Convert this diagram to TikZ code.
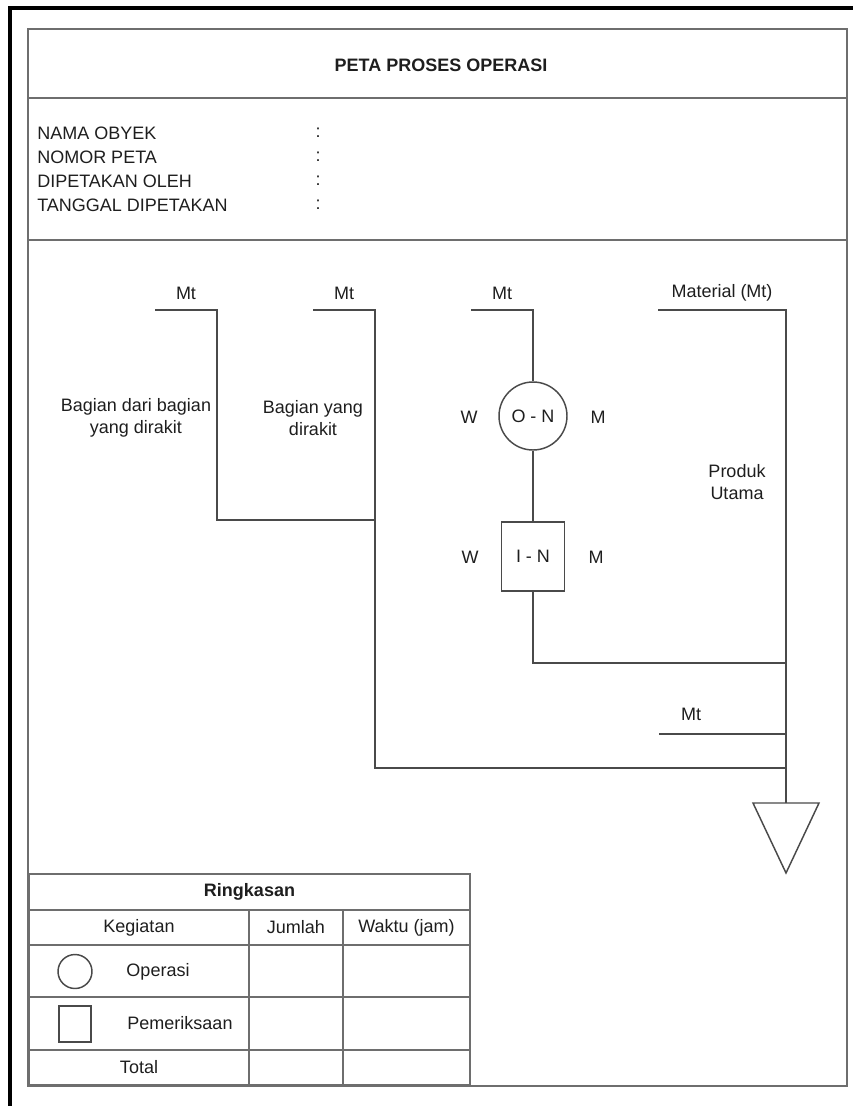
\documentclass[tikz,border=0pt]{standalone}
\usepackage{fontspec}
\setmainfont{Liberation Sans}
\usepackage{xcolor}
\definecolor{garis}{HTML}{4A4A4A}
\definecolor{bingkai}{HTML}{6E6E6E}
\definecolor{teks}{HTML}{1E1E1E}
\usetikzlibrary{positioning,shapes.geometric}

\begin{document}
\begin{tikzpicture}[x=0.75pt, y=-0.75pt,
                   lbl/.style={inner sep=0pt, text=teks, font=\fontsize{13.5}{16}\selectfont},
                   ttl/.style={lbl, font=\fontsize{13.5}{16}\selectfont\bfseries},
                   ket/.style={lbl, align=center},
                   frm/.style={draw=bingkai, line width=1.4pt},
                   ln/.style={draw=garis, line width=1.1pt},
                   opr/.style={circle, ln, minimum size=51pt, inner sep=0pt, text=teks,
                               font=\fontsize{13.5}{16}\selectfont},
                   insp/.style={rectangle, ln, minimum width=47.25pt, minimum height=51.75pt,
                                inner sep=0pt, text=teks, font=\fontsize{13.5}{16}\selectfont}]
    \useasboundingbox (0,0) rectangle (853,1106);
    % bingkai luar
    \draw[black, line width=3pt] (10,1106) -- (10,8) -- (853,8);
    \draw[frm] (28,29) rectangle (847,1086);
    \draw[frm] (28,98) -- (847,98);
    \draw[frm] (28,240) -- (847,240);
    % kepala peta
    \node[ttl] (judul) at (441,65) {PETA PROSES OPERASI};
    \node[lbl, anchor=west] (nama)  at (37,133) {NAMA OBYEK};
    \node[lbl, anchor=west] (nomor) at (37,157) {NOMOR PETA};
    \node[lbl, anchor=west] (oleh)  at (37,181) {DIPETAKAN OLEH};
    \node[lbl, anchor=west] (tgl)   at (37,205) {TANGGAL DIPETAKAN};
    \node[lbl] (c1) at (318,133) {:};
    \node[lbl] (c2) at (318,157) {:};
    \node[lbl] (c3) at (318,181) {:};
    \node[lbl] (c4) at (318,205) {:};
    % material masuk
    \coordinate (mt1) at (155,310); \coordinate (a1) at (217,310); \coordinate (b1) at (217,520);
    \coordinate (mt2) at (313,310); \coordinate (a2) at (375,310); \coordinate (b2) at (375,520);
    \coordinate (c2b) at (375,768);
    \coordinate (mt3) at (471,310); \coordinate (a3) at (533,310);
    \coordinate (mt4) at (658,310); \coordinate (a4) at (786,310);
    \coordinate (mt5) at (659,734); \coordinate (a5) at (786,734);
    \coordinate (b3) at (533,663); \coordinate (d3) at (786,663);
    \coordinate (d2) at (786,768);
    \coordinate (st) at (786,803);
    \node[lbl] (lmt1) at (186,293) {Mt};
    \node[lbl] (lmt2) at (344,293) {Mt};
    \node[lbl] (lmt3) at (502,293) {Mt};
    \node[lbl] (lmt4) at (722,293) {Material (Mt)};
    \node[lbl] (lmt5) at (691,714) {Mt};
    % operasi dan pemeriksaan
    \node[opr]  (on) at (533,416) {O - N};
    \node[insp] (in) at (533,556.5) {I - N};
    \node[lbl] (w1) at (469,417) {W};
    \node[lbl] (m1) at (598,417) {M};
    \node[lbl] (w2) at (470,557) {W};
    \node[lbl] (m2) at (596,557) {M};
    \node[ket] (bdb) at (136,418) {Bagian dari bagian\\yang dirakit};
    \node[ket] (byd) at (313,418) {Bagian yang\\dirakit};
    \node[ket] (pu)  at (737,482) {Produk\\Utama};
    % garis aliran
    \draw[ln] (mt1) -- (a1) -- (b1) -- (b2);
    \draw[ln] (mt2) -- (a2) -- (c2b) -- (d2);
    \draw[ln] (mt3) -- (a3) -- (on.north);
    \draw[ln] (on.south) -- (in.north);
    \draw[ln] (in.south) -- (b3) -- (d3);
    \draw[ln] (mt4) -- (a4) -- (st);
    \draw[ln] (mt5) -- (a5);
    \draw[ln] (st) -- ++(-33,0) -- (786,873) -- (819,803) -- cycle;
    % ringkasan
    \draw[frm] (29,874) rectangle (470,1085);
    \draw[frm] (29,910) -- (470,910);
    \draw[frm] (29,945) -- (470,945);
    \draw[frm] (29,997) -- (470,997);
    \draw[frm] (29,1050) -- (470,1050);
    \draw[frm] (249,910) -- (249,1085);
    \draw[frm] (343,910) -- (343,1085);
    \node[ttl] (ring) at (249.5,892) {Ringkasan};
    \node[lbl] (keg) at (139,927.5) {Kegiatan};
    \node[lbl] (jml) at (296,927.5) {Jumlah};
    \node[lbl] (wkt) at (406.5,927.5) {Waktu (jam)};
    \node[circle, ln, minimum size=25.5pt, inner sep=0pt] (sop) at (75,971.5) {};
    \node[lbl] (op) at (158,971.5) {Operasi};
    \node[rectangle, ln, minimum width=24pt, minimum height=27pt, inner sep=0pt] (spm) at (75,1024) {};
    \node[lbl] (pm) at (180,1023.5) {Pemeriksaan};
    \node[lbl] (tot) at (139,1067.5) {Total};
\end{tikzpicture}
\end{document}
